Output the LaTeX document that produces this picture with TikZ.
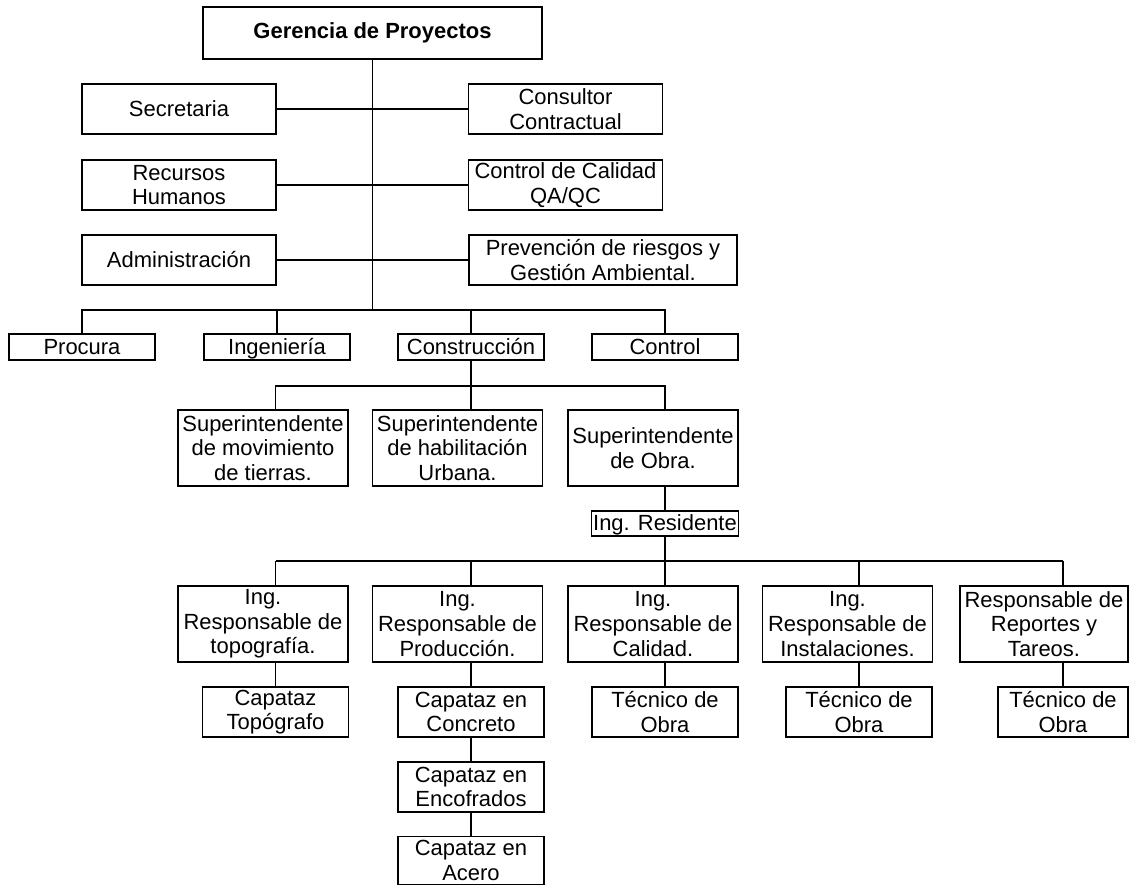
\documentclass[tikz,border=0pt]{standalone}
\usepackage{fontspec}
\setmainfont{Liberation Sans}
\usetikzlibrary{calc}
\tikzset{
  box/.style={draw=black, fill=white, line width=0.75pt, align=center, inner sep=1pt, text=black, font=\fontsize{12.5}{14}\selectfont},
  staff/.style={box, minimum width=3.88cm, minimum height=1.0cm},
  unit/.style={box, minimum width=2.92cm, minimum height=0.52cm, text height=10.3pt, text depth=1.9pt},
  post/.style={box, minimum width=3.4cm, minimum height=1.52cm},
  crew/.style={box, minimum width=2.92cm, minimum height=1.0cm},
  link/.style={line width=0.75pt, draw=black},
}

\begin{document}
\begin{tikzpicture}[x=0.02cm, y=-0.02cm]
  \useasboundingbox (0,0) rectangle (1130,886);

  % gerencia y staff
  \node[box, minimum width=6.78cm, minimum height=1.04cm, font=\fontsize{12.5}{14}\selectfont\bfseries] (ger) at (372.5,33) {Gerencia de Proyectos};
  \node[staff] (sec) at (179,109) {Secretaria};
  \node[staff] (rrhh) at (179,185) {Recursos\\Humanos};
  \node[staff] (adm) at (179,260) {Administración};
  \node[staff] (cons) at (565.5,109) {Consultor\\Contractual};
  \node[staff] (qaqc) at (565.5,185) {Control de Calidad\\QA/QC};
  \node[staff, minimum width=5.36cm] (prev) at (603,260) {Prevención de riesgos y\\Gestión Ambiental.};

  % areas
  \foreach \n/\x/\t in {procura/82/Procura, ingen/277/Ingeniería, constr/471/Construcción, control/665/Control}
    \node[unit] (\n) at (\x,347) {\t};

  % construccion
  \node[post] (sup1) at (263,448) {Superintendente\\de movimiento\\de tierras.};
  \node[post] (sup2) at (457.5,448) {Superintendente\\de habilitación\\Urbana.};
  \node[post] (sup3) at (653,448) {Superintendente\\de Obra.};
  \node[unit, minimum height=0.5cm] (res) at (665,523.5) {Ing. Residente};

  \node[post] (ing1) at (263,624) {Ing.\\Responsable de\\topografía.};
  \node[post] (ing2) at (457.5,624) {Ing.\\Responsable de\\Producción.};
  \node[post] (ing3) at (653,624) {Ing.\\Responsable de\\Calidad.};
  \node[post] (ing4) at (847.5,624) {Ing.\\Responsable de\\Instalaciones.};
  \node[post, minimum width=3.36cm] (ing5) at (1044,624) {Responsable de\\Reportes y\\Tareos.};

  \node[crew] (crew1) at (275.5,712) {Capataz\\Topógrafo};
  \node[crew] (crew2) at (471,712) {Capataz en\\Concreto};
  \node[crew] (crew3) at (665,712) {Técnico de\\Obra};
  \node[crew] (crew4) at (859,712) {Técnico de\\Obra};
  \node[crew, minimum width=2.6cm] (crew5) at (1063,712) {Técnico de\\Obra};
  \node[crew] (enc) at (471,787) {Capataz en\\Encofrados};
  \node[crew, minimum height=0.96cm] (acero) at (471,860.5) {Capataz en\\Acero};

  % lineas
  \coordinate (bus1) at (372.5,310);
  \coordinate (bus2) at (471,386);
  \coordinate (bus3) at (665,561);
  \draw[link] (ger) -- (bus1);
  \draw[link] (sec) -- (cons);
  \draw[link] (rrhh) -- (qaqc);
  \draw[link] (adm) -- (prev);
  \draw[link] (procura) |- (bus1) -| (control);
  \draw[link] (ingen) -- (ingen |- bus1);
  \draw[link] (constr) -- (constr |- bus1);

  \draw[link] (constr) -- (bus2);
  \draw[link] (crew1 |- sup1.north) |- (bus2) -| (crew3 |- sup3.north);
  \draw[link] (bus2) -- (crew2 |- sup2.north);
  \draw[link] (res |- sup3.south) -- (res);
  \draw[link] (res) -- (bus3);

  \draw[link] (crew1 |- bus3) -- (crew5 |- bus3);
  \foreach \i in {1,...,5} {
    \draw[link] (crew\i |- bus3) -- (crew\i |- ing\i.north);
    \draw[link] (crew\i |- ing\i.south) -- (crew\i);
  }
  \draw[link] (crew2) -- (enc);
  \draw[link] (enc) -- (acero);
\end{tikzpicture}
\end{document}
